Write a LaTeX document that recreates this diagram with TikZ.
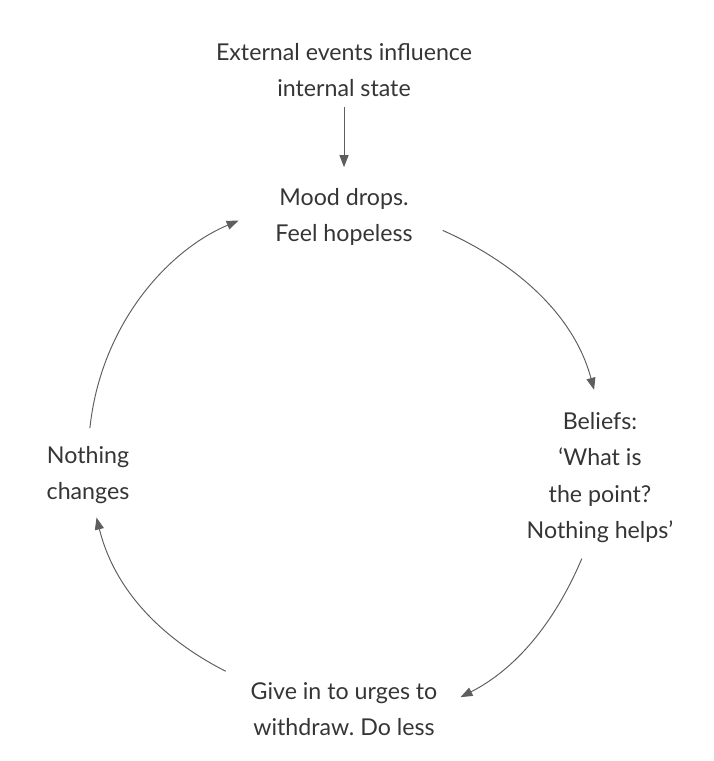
\documentclass[tikz,border=0pt]{standalone}
\usepackage{fontspec}
\setmainfont{Lato}
\usepackage{xcolor}
\definecolor{inkgray}{HTML}{353535}
\definecolor{arrowgray}{HTML}{5E5E5E}
\usepackage{tikz}
\usetikzlibrary{arrows.meta}
\frenchspacing

\begin{document}
\begin{tikzpicture}[
  lbl/.style={align=center, inner sep=0pt, outer sep=0pt, text=inkgray,
    font=\fontsize{13.2}{20.8}\selectfont},
  cyc/.style={draw=arrowgray, line width=0.55pt,
    -{Triangle[length=2.4mm,width=1.8mm]}}]
  \useasboundingbox (0,0) rectangle (14.26,15.22);

  % --- Trigger ---
  \node[lbl] (ext) at (6.88,13.82) {External events influence\\internal state};

  % --- The cycle ---
  \node[lbl] (mood) at (6.88,10.88) {Mood drops.\\Feel hopeless};
  \node[lbl] (beliefs) at (12.0,5.67) {Beliefs:\\‘What is\\the point?\\Nothing helps’};
  \node[lbl] (give) at (6.88,1.04) {Give in to urges to\\withdraw. Do less};
  \node[lbl] (nothing) at (1.76,5.72) {Nothing\\changes};

  % Arrows
  \draw[cyc, shorten <=0.2cm, shorten >=0.42cm] (ext.south) -- (mood.north);
  \draw[cyc, shorten <=0.66cm, shorten >=0.46cm] (mood.east) to[out=-24,in=105] (beliefs.north);
  \draw[cyc, shorten <=0.34cm, shorten >=0.52cm] (beliefs.-100) to[out=-113,in=27] (give.east);
  \draw[cyc, shorten <=0.56cm, shorten >=0.28cm] (give.165) to[out=153,in=-76] (nothing.-80);
  \draw[cyc, shorten <=0.36cm, shorten >=0.8cm] (nothing.north) to[out=84,in=-157] (mood.170);
\end{tikzpicture}
\end{document}
